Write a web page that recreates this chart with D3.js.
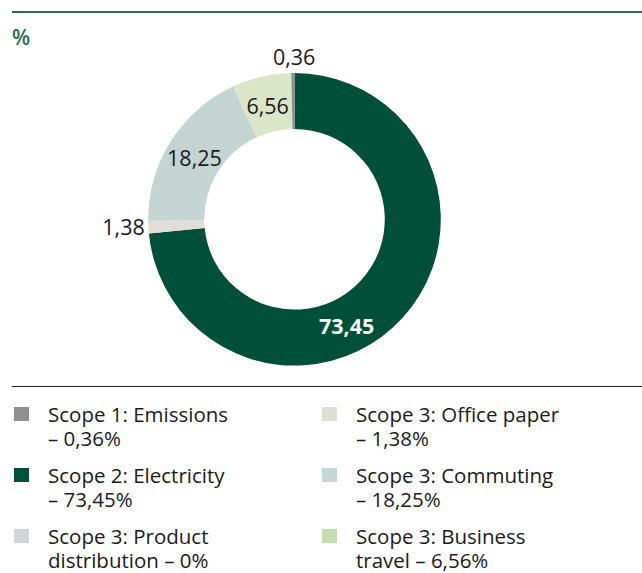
<!DOCTYPE html>
<html>
<head>
<meta charset="utf-8">
<script src="https://cdn.jsdelivr.net/npm/d3@7"></script>
<style>
  html, body { margin: 0; padding: 0; background: #fff; }
  svg { display: block; }
  text { font-family: "Open Sans", "Noto Sans", sans-serif; }
</style>
</head>
<body>
<svg id="chart" width="642" height="573"></svg>
<script>
// ---- data (clockwise order from 12 o'clock) ----
const categories = ["Scope 2: Electricity", "Scope 3: Product distribution", "Scope 3: Office paper", "Scope 3: Commuting", "Scope 3: Business travel", "Scope 1: Emissions"];
const values = [73.45, 0, 1.38, 18.25, 6.56, 0.36];
const sliceColors = ["#004f38", "#d4d5d8", "#e1ded7", "#c4d4d2", "#dbe5c8", "#8e8f93"];

// legend (two columns, top to bottom)
const legendOrder = ["Scope 1: Emissions", "Scope 2: Electricity", "Scope 3: Product distribution", "Scope 3: Office paper", "Scope 3: Commuting", "Scope 3: Business travel"];
const legendLines = [
  ["Scope 1: Emissions", "\u2013 0,36%"],
  ["Scope 2: Electricity", "\u2013 73,45%"],
  ["Scope 3: Product", "distribution \u2013 0%"],
  ["Scope 3: Office paper", "\u2013 1,38%"],
  ["Scope 3: Commuting", "\u2013 18,25%"],
  ["Scope 3: Business", "travel \u2013 6,56%"]
];
const legendColors = ["#8e8f93", "#004f38", "#d4d5d8", "#e0ddd5", "#c5d5d5", "#c7dbb1"];
const unitLabel = "%";

// ---- drawing ----
const svg = d3.select("#chart");
const W = 642;
const green = "#2b6b55";

const fmt = d3.formatLocale({decimal: ",", thousands: ".", grouping: [3], currency: ["", ""]}).format(".2f");

// top rule
svg.append("line").attr("x1", 12).attr("x2", W).attr("y1", 12).attr("y2", 12)
  .attr("stroke", green).attr("stroke-width", 2);
svg.append("text").attr("x", 12).attr("y", 45).attr("fill", green)
  .attr("font-size", 21).attr("font-weight", 600).text(unitLabel);

const cx = 294.5, cy = 219.3, R = 146.3, r = 90.3;
const g = svg.append("g").attr("transform", `translate(${cx},${cy})`);

const pie = d3.pie().sort(null).value(d => d.value).startAngle(0).endAngle(2 * Math.PI);
const data = categories.map((c, i) => ({name: c, value: values[i], color: sliceColors[i]}));
const arcs = pie(data);
const arc = d3.arc().innerRadius(r).outerRadius(R);

g.selectAll("path.slice").data(arcs.filter(d => d.value > 0)).join("path")
  .attr("class", "slice")
  .attr("d", arc)
  .attr("fill", d => d.data.color);

// labels
const labelPos = d => {
  const mid = (d.startAngle + d.endAngle) / 2;
  const v = d.data.value;
  if (v >= 50) {
    // big slice: label in lower part of the ring
    const a = mid + 0.38;
    const rr = 119;
    return {x: rr * Math.sin(a), y: -rr * Math.cos(a), anchor: "middle", fill: "#fff", weight: 700};
  }
  if (v < 2) {
    const rr = v < 1 ? 162 : 150;
    const x = rr * Math.sin(mid), y = -rr * Math.cos(mid);
    return {x: v < 1 ? x + 1.5 : x, y: y, anchor: v < 1 ? "middle" : "end", fill: "#1a1a1a", weight: 400};
  }
  const c = arc.centroid(d);
  return {x: c[0], y: c[1] + 2, anchor: "middle", fill: "#1a1a1a", weight: 400};
};

g.selectAll("text.lbl").data(arcs.filter(d => d.value > 0)).join("text")
  .attr("class", "lbl")
  .each(function(d) {
    const p = labelPos(d);
    d3.select(this).attr("x", p.x).attr("y", p.y)
      .attr("text-anchor", p.anchor).attr("fill", p.fill).attr("font-weight", p.weight);
  })
  .attr("dy", "0.35em")
  .attr("font-size", 21.5)
  .text(d => fmt(d.data.value));

// separator
svg.append("line").attr("x1", 12).attr("x2", W).attr("y1", 386.5).attr("y2", 386.5)
  .attr("stroke", "#222").attr("stroke-width", 1.2);

// legend
const colX = [14, 322];
const textDX = 34;
const rowY0 = 407, rowStep = 61;
const leg = svg.append("g");
legendOrder.forEach((name, i) => {
  const col = Math.floor(i / 3), row = i % 3;
  const x = colX[col], y = rowY0 + row * rowStep;
  const it = leg.append("g").attr("transform", `translate(${x},${y})`);
  it.append("rect").attr("width", 15).attr("height", 14).attr("fill", legendColors[i]);
  const t = it.append("text").attr("x", textDX).attr("y", 14.5).attr("font-size", 20.5).attr("fill", "#1a1a1a");
  legendLines[i].forEach((ln, j) => {
    t.append("tspan").attr("x", textDX).attr("dy", j === 0 ? 0 : 24).text(ln);
  });
});
</script>
</body>
</html>
